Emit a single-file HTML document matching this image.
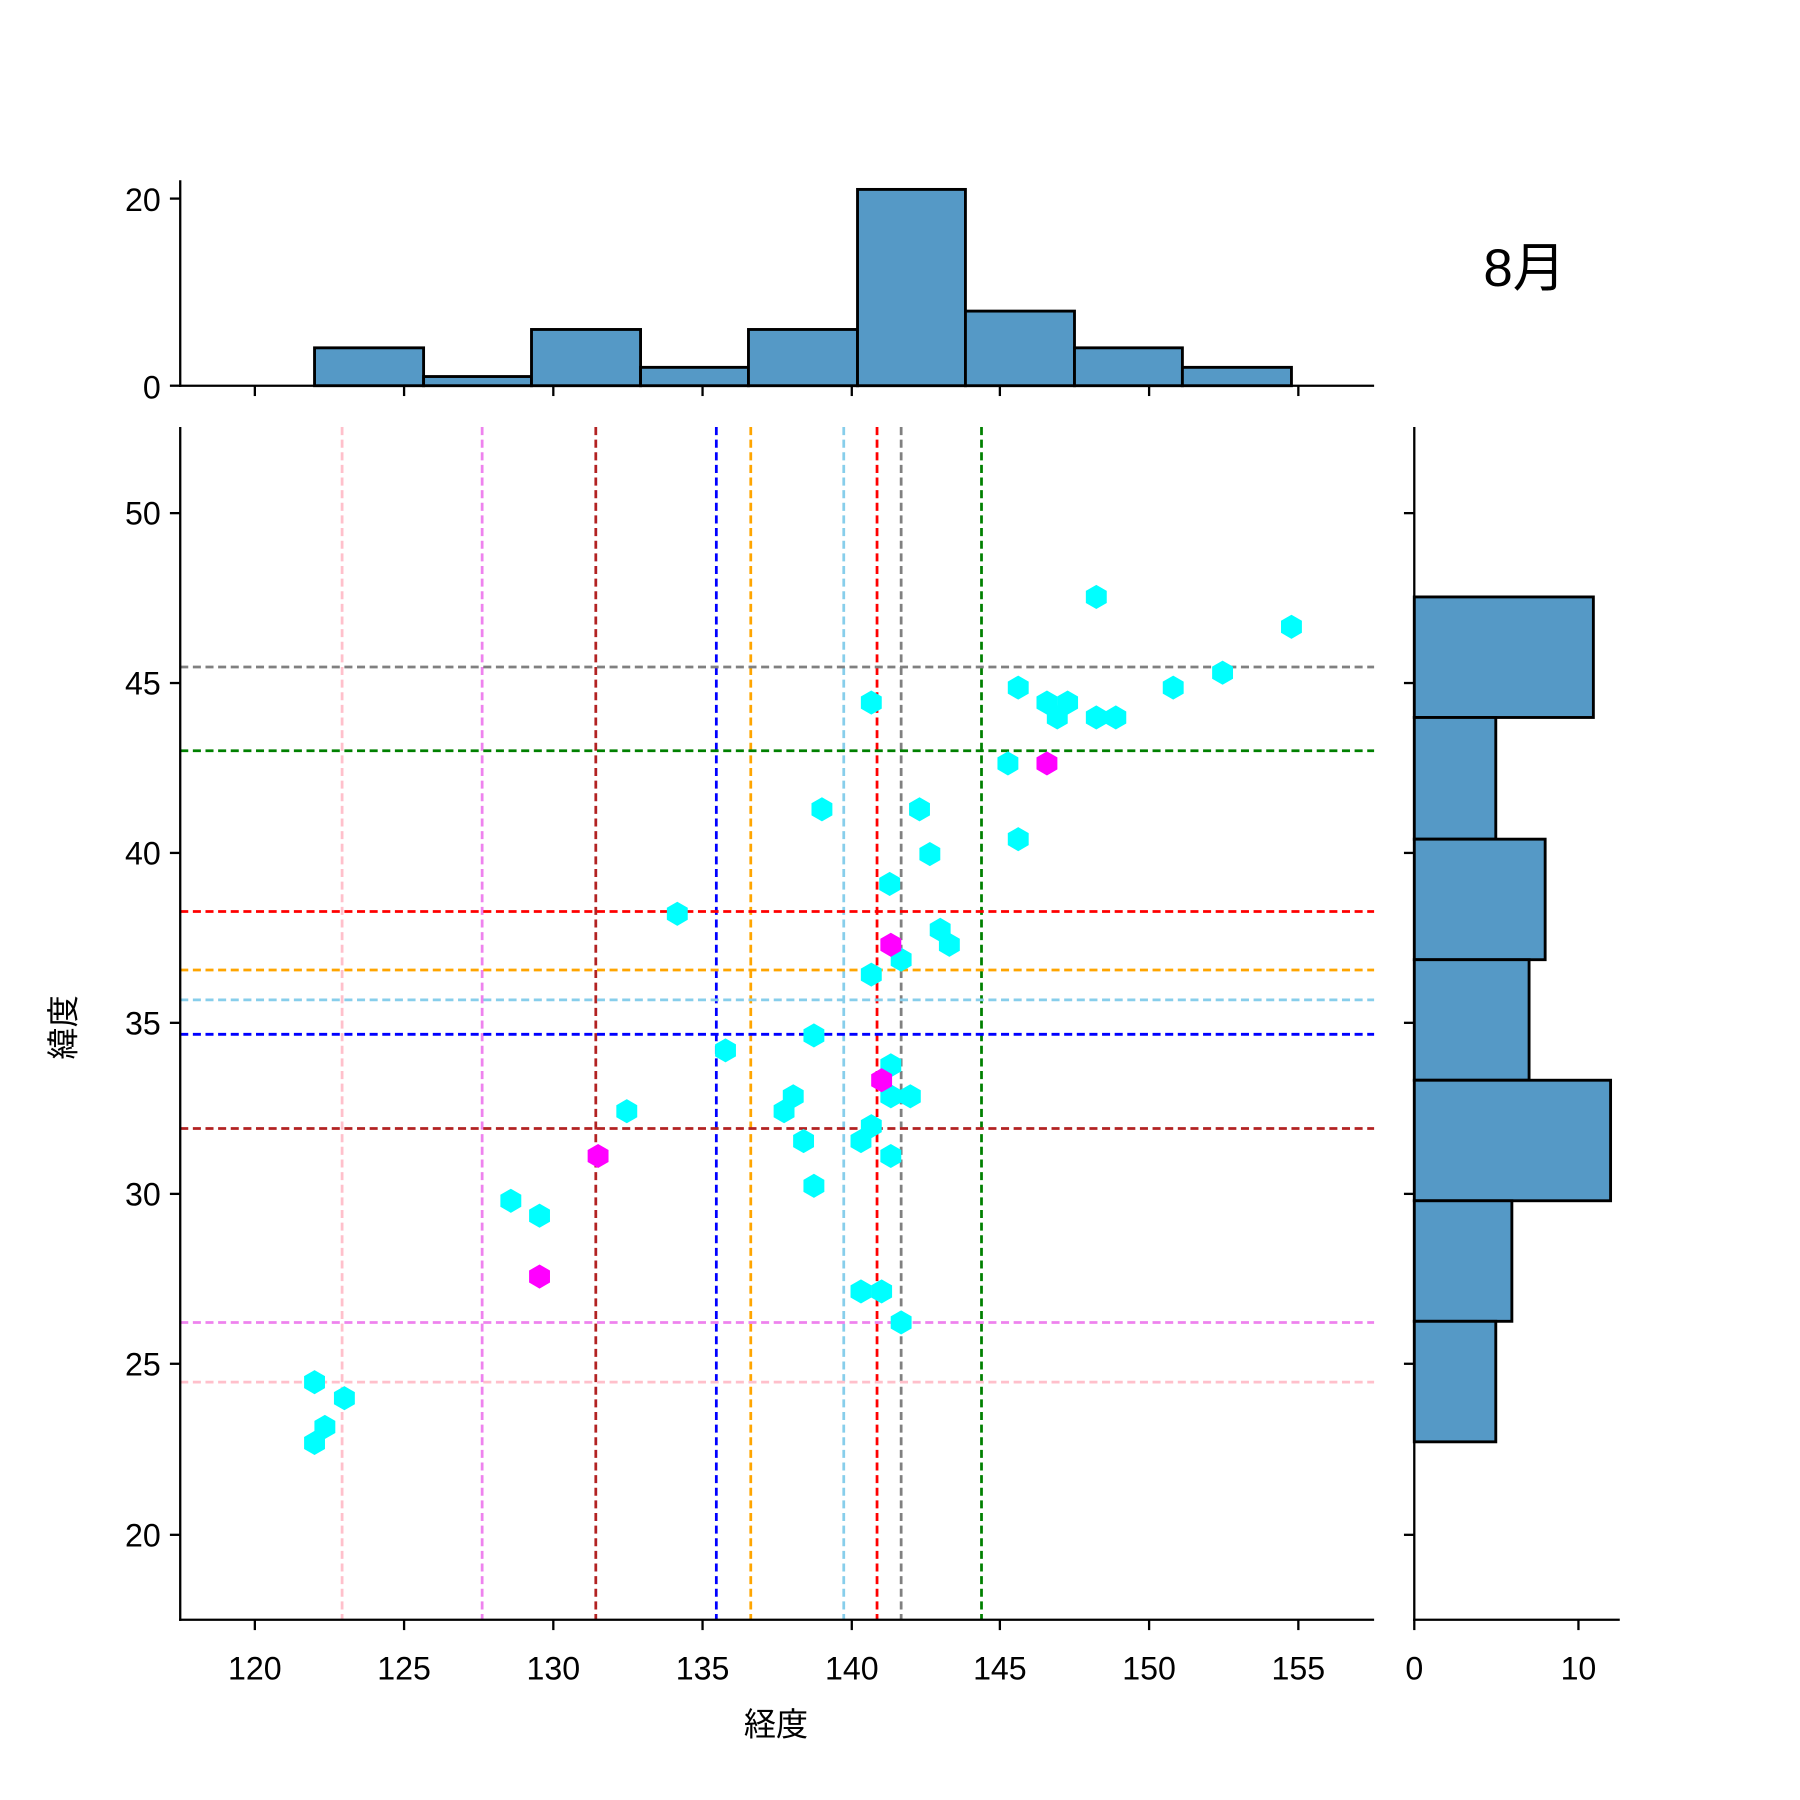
<!DOCTYPE html>
<html><head><meta charset="utf-8"><style>html,body{margin:0;padding:0;background:#fff}svg{display:block}</style></head>
<body>
<svg xmlns="http://www.w3.org/2000/svg" width="1800" height="1800" viewBox="0 0 1568 1568" font-family="'Liberation Sans','Noto Sans CJK JP',sans-serif">
<defs>
<path id="h" d="M0,-10.5 L9.1,-5.25 L9.1,5.25 L0,10.5 L-9.1,5.25 L-9.1,-5.25Z"/>
</defs>
<rect width="1568" height="1568" fill="#fff"/>
<g fill="#5599c6" stroke="#000" stroke-width="2.5">
<rect x="274" y="303" width="95" height="33"/>
<rect x="369" y="328" width="94" height="8"/>
<rect x="463" y="287" width="95" height="49"/>
<rect x="558" y="320" width="94" height="16"/>
<rect x="652" y="287" width="95" height="49"/>
<rect x="747" y="165" width="94" height="171"/>
<rect x="841" y="271" width="95" height="65"/>
<rect x="936" y="303" width="94" height="33"/>
<rect x="1030" y="320" width="95" height="16"/>
</g>
<g stroke="#000" stroke-width="2">
<line x1="157" y1="157" x2="157" y2="337"/>
<line x1="156" y1="336" x2="1197" y2="336"/>
<line x1="148" y1="173" x2="157" y2="173"/><line x1="148" y1="336" x2="157" y2="336"/>
<line x1="222" y1="336" x2="222" y2="345"/><line x1="352" y1="336" x2="352" y2="345"/><line x1="482" y1="336" x2="482" y2="345"/><line x1="612" y1="336" x2="612" y2="345"/><line x1="742" y1="336" x2="742" y2="345"/><line x1="871" y1="336" x2="871" y2="345"/><line x1="1001" y1="336" x2="1001" y2="345"/><line x1="1131" y1="336" x2="1131" y2="345"/>
</g>
<g font-size="28" text-anchor="end" fill="#000">
<text x="140" y="184">20</text><text x="140" y="347">0</text>
</g>
<text x="1328" y="249" font-size="46" text-anchor="middle">8月</text>
<g fill="#5599c6" stroke="#000" stroke-width="2.5">
<rect x="1232" y="520" width="156" height="105"/>
<rect x="1232" y="625" width="71" height="106"/>
<rect x="1232" y="731" width="114" height="105"/>
<rect x="1232" y="836" width="100" height="105"/>
<rect x="1232" y="941" width="171" height="105"/>
<rect x="1232" y="1046" width="85" height="105"/>
<rect x="1232" y="1151" width="71" height="105"/>
</g>
<g stroke="#000" stroke-width="2">
<line x1="1232" y1="372" x2="1232" y2="1412"/>
<line x1="1231" y1="1411" x2="1411" y2="1411"/>
<line x1="1232" y1="1411" x2="1232" y2="1420"/><line x1="1375" y1="1411" x2="1375" y2="1420"/>
<line x1="1223" y1="447" x2="1232" y2="447"/><line x1="1223" y1="595" x2="1232" y2="595"/><line x1="1223" y1="743" x2="1232" y2="743"/><line x1="1223" y1="891" x2="1232" y2="891"/><line x1="1223" y1="1040" x2="1232" y2="1040"/><line x1="1223" y1="1188" x2="1232" y2="1188"/><line x1="1223" y1="1337" x2="1232" y2="1337"/>
</g>
<g font-size="28" text-anchor="middle"><text x="1232" y="1463">0</text><text x="1375" y="1463">10</text></g>
<g stroke-width="2.4" stroke-dasharray="7,4" fill="none">
<line x1="298" y1="372" x2="298" y2="1411" stroke="pink"/>
<line x1="420" y1="372" x2="420" y2="1411" stroke="violet"/>
<line x1="519" y1="372" x2="519" y2="1411" stroke="firebrick"/>
<line x1="624" y1="372" x2="624" y2="1411" stroke="blue"/>
<line x1="654" y1="372" x2="654" y2="1411" stroke="orange"/>
<line x1="735" y1="372" x2="735" y2="1411" stroke="skyblue"/>
<line x1="764" y1="372" x2="764" y2="1411" stroke="red"/>
<line x1="785" y1="372" x2="785" y2="1411" stroke="gray"/>
<line x1="855" y1="372" x2="855" y2="1411" stroke="green"/>
<line x1="157" y1="581" x2="1197" y2="581" stroke="gray"/>
<line x1="157" y1="654" x2="1197" y2="654" stroke="green"/>
<line x1="157" y1="794" x2="1197" y2="794" stroke="red"/>
<line x1="157" y1="845" x2="1197" y2="845" stroke="orange"/>
<line x1="157" y1="871" x2="1197" y2="871" stroke="skyblue"/>
<line x1="157" y1="901" x2="1197" y2="901" stroke="blue"/>
<line x1="157" y1="983" x2="1197" y2="983" stroke="firebrick"/>
<line x1="157" y1="1152" x2="1197" y2="1152" stroke="violet"/>
<line x1="157" y1="1204" x2="1197" y2="1204" stroke="pink"/>
</g>
<g fill="#00ffff">
<use href="#h" x="955" y="520"/><use href="#h" x="1125" y="546"/><use href="#h" x="1065" y="586"/><use href="#h" x="887" y="599"/><use href="#h" x="1022" y="599"/><use href="#h" x="912" y="612"/><use href="#h" x="930" y="612"/><use href="#h" x="759" y="612"/><use href="#h" x="921" y="625"/><use href="#h" x="955" y="625"/><use href="#h" x="972" y="625"/><use href="#h" x="878" y="665"/><use href="#h" x="716" y="705"/><use href="#h" x="801" y="705"/><use href="#h" x="810" y="744"/><use href="#h" x="887" y="731"/><use href="#h" x="775" y="770"/><use href="#h" x="590" y="796"/><use href="#h" x="819" y="810"/><use href="#h" x="827" y="823"/><use href="#h" x="785" y="836"/><use href="#h" x="759" y="849"/><use href="#h" x="709" y="902"/><use href="#h" x="632" y="915"/><use href="#h" x="776" y="928"/><use href="#h" x="691" y="955"/><use href="#h" x="776" y="955"/><use href="#h" x="793" y="955"/><use href="#h" x="546" y="968"/><use href="#h" x="683" y="968"/><use href="#h" x="759" y="981"/><use href="#h" x="700" y="994"/><use href="#h" x="750" y="994"/><use href="#h" x="776" y="1007"/><use href="#h" x="709" y="1033"/><use href="#h" x="445" y="1046"/><use href="#h" x="470" y="1059"/><use href="#h" x="750" y="1125"/><use href="#h" x="768" y="1125"/><use href="#h" x="785" y="1152"/><use href="#h" x="274" y="1204"/><use href="#h" x="300" y="1218"/><use href="#h" x="283" y="1243"/><use href="#h" x="274" y="1257"/>
</g>
<g fill="#ff00ff">
<use href="#h" x="912" y="665"/><use href="#h" x="776" y="823"/><use href="#h" x="768" y="941"/><use href="#h" x="521" y="1007"/><use href="#h" x="470" y="1112"/>
</g>
<g stroke="#000" stroke-width="2">
<line x1="157" y1="372" x2="157" y2="1412"/>
<line x1="156" y1="1411" x2="1197" y2="1411"/>
<line x1="222" y1="1411" x2="222" y2="1420"/><line x1="352" y1="1411" x2="352" y2="1420"/><line x1="482" y1="1411" x2="482" y2="1420"/><line x1="612" y1="1411" x2="612" y2="1420"/><line x1="742" y1="1411" x2="742" y2="1420"/><line x1="871" y1="1411" x2="871" y2="1420"/><line x1="1001" y1="1411" x2="1001" y2="1420"/><line x1="1131" y1="1411" x2="1131" y2="1420"/>
<line x1="148" y1="447" x2="157" y2="447"/><line x1="148" y1="595" x2="157" y2="595"/><line x1="148" y1="743" x2="157" y2="743"/><line x1="148" y1="891" x2="157" y2="891"/><line x1="148" y1="1040" x2="157" y2="1040"/><line x1="148" y1="1188" x2="157" y2="1188"/><line x1="148" y1="1337" x2="157" y2="1337"/>
</g>
<g font-size="28" text-anchor="middle">
<text x="222" y="1463">120</text><text x="352" y="1463">125</text><text x="482" y="1463">130</text><text x="612" y="1463">135</text><text x="742" y="1463">140</text><text x="871" y="1463">145</text><text x="1001" y="1463">150</text><text x="1131" y="1463">155</text>
</g>
<g font-size="28" text-anchor="end">
<text x="140" y="457">50</text><text x="140" y="605">45</text><text x="140" y="753">40</text><text x="140" y="901">35</text><text x="140" y="1050">30</text><text x="140" y="1198">25</text><text x="140" y="1347">20</text>
</g>
<text x="676" y="1512" font-size="28" text-anchor="middle">経度</text>
<text x="0" y="0" font-size="28" text-anchor="middle" transform="translate(65,895) rotate(-90)">緯度</text>
</svg>
</body></html>
